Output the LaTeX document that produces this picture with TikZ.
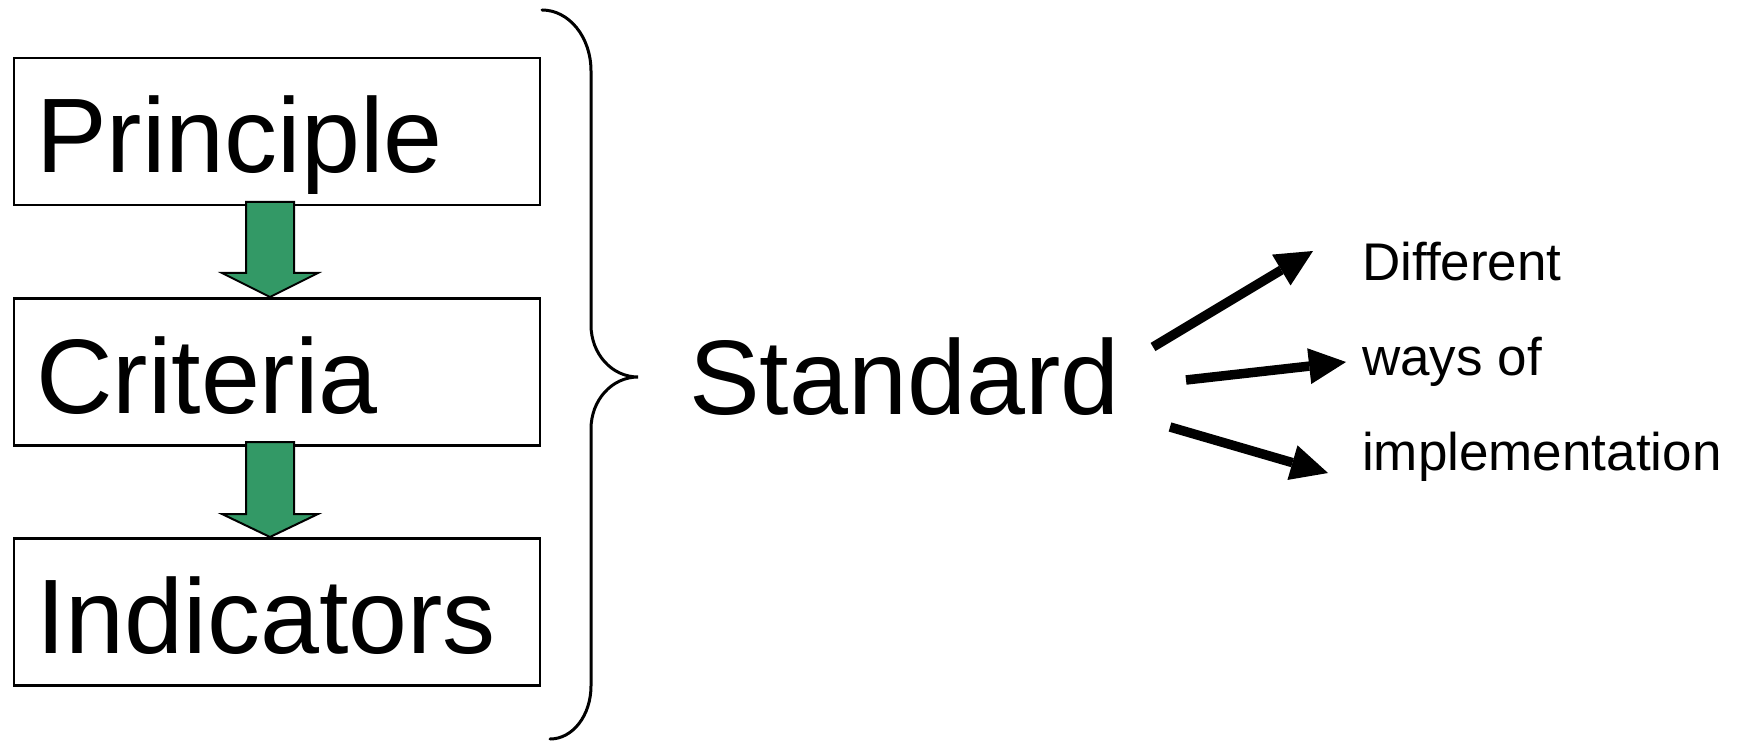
\documentclass[tikz,border=0pt]{standalone}
\usepackage{fontspec}
\setmainfont{Liberation Sans}
\usetikzlibrary{arrows.meta}
\definecolor{blockgreen}{HTML}{339966}
\begin{document}
\begin{tikzpicture}[x=1pt,y=-1pt,
  box/.style={draw=black, line width=2.5pt, minimum width=526pt, minimum height=147pt, inner sep=0pt},
  bigtext/.style={anchor=base west, inner sep=0pt, font=\fontsize{106}{110}\selectfont},
  smalltext/.style={anchor=base west, inner sep=0pt, font=\fontsize{53}{60}\selectfont},
  blockarrow/.style={draw=black, line width=2pt, fill=blockgreen, line join=miter},
  thickarrow/.style={line width=9.5pt, -{Triangle[length=37pt,width=36pt,line width=0pt]}},
  bracestyle/.style={line width=3pt, line cap=round}]
\fill[white] (0,0) rectangle (1738,743);
\useasboundingbox (0,0) rectangle (1738,743);

% boxes
\node[box] (pbox) at (277,131.5) {};
\node[box] (cbox) at (277,372) {};
\node[box] (ibox) at (277,612) {};

% labels
\node[bigtext] (ptext) at (36,173) {Principle};
\node[bigtext] (ctext) at (36,413) {Criteria};
\node[bigtext] (itext) at (36,653) {Indicators};

% green block arrows
\draw[blockarrow] (246,202) -- (294,202) -- (294,273) -- (318,273) -- (270,297) -- (222,273) -- (246,273) -- cycle;
\draw[blockarrow] (246,442) -- (294,442) -- (294,514) -- (318,514) -- (270,537) -- (222,514) -- (246,514) -- cycle;

% brace
\draw[bracestyle] (542,10) .. controls (569,10) and (591,37) .. (591,71)
  -- (591,325) .. controls (591,354) and (612,377) .. (638,377)
  .. controls (612,377) and (591,400) .. (591,429)
  -- (591,686) .. controls (591,715) and (573,739) .. (550,739);

% standard
\node[bigtext] (std) at (689,414) {Standard};

% right texts
\node[smalltext] (t1) at (1362,281) {Different};
\node[smalltext] (t2) at (1362,375) {ways of};
\node[smalltext] (t3) at (1362,470) {implementation};

% black arrows
\coordinate (a1s) at (1153,347); \coordinate (a1e) at (1313,251);
\coordinate (a2s) at (1186,380); \coordinate (a2e) at (1346,362);
\coordinate (a3s) at (1170,427); \coordinate (a3e) at (1328,473);
\draw[thickarrow] (a1s) -- (a1e);
\draw[thickarrow] (a2s) -- (a2e);
\draw[thickarrow] (a3s) -- (a3e);
\end{tikzpicture}
\end{document}
